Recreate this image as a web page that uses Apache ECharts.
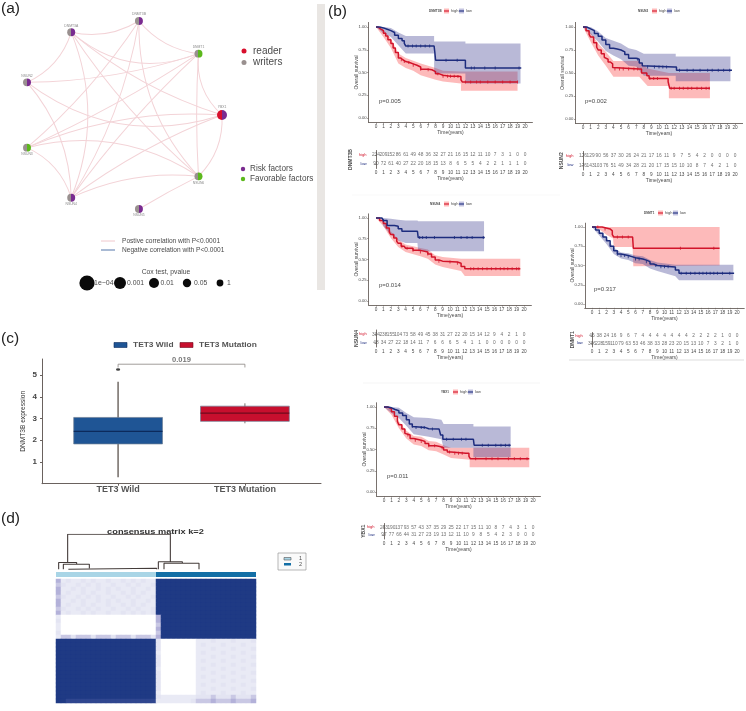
<!DOCTYPE html>
<html><head><meta charset="utf-8">
<style>html,body{margin:0;padding:0;background:#fff}#c{width:746px;height:711px;filter:blur(0.55px)}</style>
<script src="https://cdn.jsdelivr.net/npm/echarts@6/dist/echarts.min.js"></script>
</head><body><div id="c"></div>
<script>
// ---------- (a) network ----------
const nodeNames=['YBX1','NSUN6','NSUN5','NSUN4','NSUN3','NSUN2','DNMT3A','DNMT3B','DNMT1'];
const nodeAngles=[0,40,80,120,160,200,240,280,320];
const nodeLeftRole=['reader','writer','writer','writer','writer','writer','writer','writer','writer'];
const nodeRightRole=['risk','fav','risk','risk','fav','risk','risk','risk','fav'];
const edgeList=[[0,8,.25],[0,1,-.22],[0,3,.07],[0,4,.12],[0,5,.26],[0,6,.1],[1,2,.02],[1,3,.14],[1,4,.22],[1,6,.07],[1,7,.2],[1,8,.03],[3,4,.22],[3,5,.18],[3,6,.2],[3,7,.1],[3,8,.05],[4,7,.07],[4,8,.04],[5,6,.22],[5,8,.08],[6,7,.2],[6,8,.3],[7,8,.2]];
// ---------- (b) survival ----------
const years=[0,1,2,3,4,5,6,7,8,9,10,11,12,13,14,15,16,17,18,19,20];
const survTicks=[0,.25,.5,.75,1];

const dnmt3bHighT=[0,.3,.6,1,1.3,1.6,2,2.3,2.6,3,3.3,3.6,4,4.5,5,5.5,6,7,7.5,8,8.5,9,10,11,11.4,11.6,19];
const dnmt3bHighS=[1,.98,.96,.93,.9,.86,.82,.77,.72,.66,.64,.62,.61,.595,.58,.56,.535,.53,.51,.485,.47,.46,.46,.455,.42,.395,.395];
const dnmt3bHighBandT=[0,1,2,3,4,5,6,8,9,11.4,11.4,19];
const dnmt3bHighLo=[1,.89,.77,.6,.55,.52,.47,.42,.4,.38,.3,.3];
const dnmt3bHighHi=[1,.97,.87,.71,.66,.63,.6,.55,.52,.51,.51,.51];
const dnmt3bHighCens=[3.4,3.8,4.4,5,6,7,8.3,9,9.6,10,10.5,11,12,12.7,13.5,14,15,16,17,18,19];
const dnmt3bLowT=[0,.5,1,1.5,2,2.5,3,3.5,3.8,4,7.8,7.9,8,12,12,19.5];
const dnmt3bLowS=[1,.99,.975,.96,.94,.91,.875,.85,.82,.79,.79,.72,.635,.635,.55,.55];
const dnmt3bLowBandT=[0,1,2,3,4,7.8,7.8,12,12,19.4];
const dnmt3bLowLo=[1,.93,.89,.8,.71,.71,.49,.49,.38,.38];
const dnmt3bLowHi=[1,1,.99,.94,.9,.9,.84,.84,.82,.82];
const dnmt3bLowCens=[4.3,4.9,5.4,6,6.6,7.2,9.4,10.9,12.8,13.2,14.6,16,19.2];
const dnmt3bRiskHigh=[234,209,152,86,61,49,48,36,32,27,21,16,15,12,11,10,7,3,1,0,0];
const dnmt3bRiskLow=[90,72,61,40,27,22,20,18,15,13,8,6,5,5,4,2,2,1,1,1,0];

const nsun2HighT=[0,.4,.8,1,1.4,1.8,2,2.4,2.8,3,3.3,3.6,3.9,4,7.4,7.7,8.4,8.7,10.8,11.2,11.4,16.7];
const nsun2HighS=[1,.96,.92,.89,.83,.78,.75,.71,.67,.65,.62,.6,.56,.543,.543,.5,.47,.44,.44,.405,.335,.335];
const nsun2HighBandT=[0,1,2,3,4,7.4,8.5,11.3,11.3,16.7];
const nsun2HighLo=[1,.84,.69,.58,.46,.46,.36,.36,.225,.225];
const nsun2HighHi=[1,.94,.82,.73,.63,.63,.55,.5,.5,.5];
const nsun2HighCens=[4.2,4.8,5.3,6,6.7,7.2,8.8,9.3,9.8,11.6,12,12.7,13.2,13.8,14.3,15,15.6,16.2,16.6];
const nsun2LowT=[0,.5,1,1.5,2,2.5,3,3.5,4,4.5,5,5.5,6,7,7.4,7.8,8,12,12.3,19.6];
const nsun2LowS=[1,.98,.96,.93,.9,.86,.81,.77,.76,.75,.73,.7,.66,.65,.61,.58,.565,.565,.53,.53];
const nsun2LowBandT=[0,1,2,3,4,5,6,7,8,12.2,12.2,19.4];
const nsun2LowLo=[1,.92,.84,.74,.69,.65,.58,.57,.47,.47,.41,.41];
const nsun2LowHi=[1,1,.95,.88,.85,.82,.77,.75,.71,.71,.68,.68];
const nsun2LowCens=[7.2,8.5,9.4,10,10.5,11,12.7,13.7,14.5,15.4,16.4,17,17.8,18.5,19.3];
const nsun2RiskHigh=[176,129,90,56,37,30,26,24,21,17,16,11,9,7,5,4,2,0,0,0,0];
const nsun2RiskLow=[176,143,103,76,51,49,34,28,21,20,17,15,15,10,10,8,7,4,2,1,0];

const nsun4HighT=[0,.5,1,1.4,1.8,2,2.4,2.8,3,3.4,3.8,4,5,6,7,7.5,8,8.5,9,11,11.5,12,19.5];
const nsun4HighS=[1,.97,.935,.88,.83,.8,.76,.72,.695,.66,.645,.635,.61,.59,.565,.53,.495,.48,.47,.455,.415,.39,.39];
const nsun4HighBandT=[0,1,2,3,4,6,7,8,9,11.5,12,19.5];
const nsun4HighLo=[1,.9,.76,.65,.59,.54,.51,.44,.41,.36,.3,.3];
const nsun4HighHi=[1,.97,.84,.74,.68,.64,.62,.55,.53,.51,.51,.51];
const nsun4HighCens=[3.5,4.2,5,6,7,8.5,10,11,12.8,13.2,13.8,14.4,15,15.6,16.2,16.8,17.3,17.8,18.4,19,19.3];
const nsun4LowT=[0,.8,1,1.5,2.5,3,3.5,4,5.6,5.7,14.7];
const nsun4LowS=[1,1,.97,.91,.9,.87,.84,.84,.84,.765,.765];
const nsun4LowBandT=[0,.7,1,2,3,4,5.6,5.7,14.6];
const nsun4LowLo=[1,1,.9,.8,.73,.7,.7,.6,.6];
const nsun4LowHi=[1,1,1,.99,.98,.97,.97,.96,.96];
const nsun4LowCens=[1,5.9,6.3,6.8,7.9,10.6,11.5,12.3,13,14.5];
const nsun4RiskHigh=[304,238,155,104,73,58,49,45,38,31,27,22,20,15,14,12,9,4,2,1,0];
const nsun4RiskLow=[48,34,27,22,18,14,11,7,6,6,6,5,4,1,1,0,0,0,0,0,0];

const dnmt1HighT=[0,1,1.4,2.5,2.8,3,5.6,5.7,17.6];
const dnmt1HighS=[1,1,.975,.95,.9,.87,.87,.725,.725];
const dnmt1HighBandT=[0,1,2,2.9,3,5.6,5.7,17.6];
const dnmt1HighLo=[1,.97,.9,.85,.74,.74,.49,.5];
const dnmt1HighHi=[1,1,1,1,1,1,1,1];
const dnmt1HighCens=[.8,1.8,3.5,4.2,5,12.2,16.8];
const dnmt1LowT=[0,.5,1,1.5,2,2.5,3,3.5,4,5,5.5,6,7,7.5,8,8.5,9,11,11.5,12,19.6];
const dnmt1LowS=[1,.96,.92,.87,.82,.75,.69,.65,.63,.615,.6,.585,.57,.55,.52,.5,.485,.48,.44,.4,.4];
const dnmt1LowBandT=[0,1,2,3,4,5,6,7,8,9,11.5,12,19.5];
const dnmt1LowLo=[1,.89,.78,.65,.59,.57,.53,.52,.46,.43,.36,.31,.31];
const dnmt1LowHi=[1,.95,.86,.73,.67,.66,.63,.62,.57,.54,.51,.51,.51];
const dnmt1LowCens=[3.5,4,4.5,5,6,6.5,7.5,8.8,9.5,10,10.5,12.3,13,13.6,14.2,14.8,15.3,15.8,16.3,16.8,17.3,18,19];
const dnmt1RiskHigh=[46,38,24,16,9,6,7,4,4,4,4,4,4,4,2,2,2,2,1,0,0];
const dnmt1RiskLow=[306,228,159,110,79,63,53,46,38,33,28,23,20,15,13,10,7,3,2,1,0];

const ybx1HighT=[0,.5,1,1.4,1.8,2,2.4,2.8,3,3.5,4,5,5.5,6,7,7.5,8,8.5,9,11,11.4,11.6,19.5];
const ybx1HighS=[1,.98,.945,.89,.83,.79,.74,.69,.67,.63,.61,.595,.57,.545,.535,.52,.495,.47,.457,.455,.42,.39,.39];
const ybx1HighBandT=[0,1,2,3,4,5,6,7,8,9,11.5,11.5,19.5];
const ybx1HighLo=[1,.91,.75,.63,.56,.54,.49,.48,.44,.4,.38,.29,.29];
const ybx1HighHi=[1,.97,.83,.72,.66,.65,.6,.59,.55,.52,.52,.52,.52];
const ybx1HighCens=[3.2,4.2,5,6,6.8,7.8,8.8,9.5,10,10.5,12.3,13.7,14.5,15.3,16.7,17.5,18.3,19.2];
const ybx1LowT=[0,.5,1,1.5,2,2.5,3,3.4,3.8,4,5.5,6,7.4,7.6,7.9,12,12.1,17];
const ybx1LowS=[1,.99,.97,.955,.93,.9,.85,.8,.77,.76,.745,.74,.73,.67,.62,.62,.55,.55];
const ybx1LowBandT=[0,1,2,3,4,6,7.7,8,12,12,17];
const ybx1LowLo=[1,.93,.87,.78,.68,.65,.62,.52,.52,.41,.41];
const ybx1LowHi=[1,1,.99,.93,.88,.87,.85,.8,.8,.77,.77];
const ybx1LowCens=[3.8,4.3,5,5.4,6.5,8.4,9.3,10.4,11,13.2,14,15,15.7,16.3,16.8];
const ybx1RiskHigh=[253,190,137,93,57,43,37,35,29,25,22,17,15,11,10,8,7,4,3,1,0];
const ybx1RiskLow=[97,77,66,44,31,27,23,19,13,12,11,10,9,8,5,4,2,3,0,0,0];

const panelPValues=['p=0.005','p=0.002','p=0.014','p=0.317','p=0.011'];
// ---------- (c) box plot ----------
const boxCategories=['TET3 Wild','TET3 Mutation'];
const boxWild=[1,.3,1.83,2.41,3.05,4.69];
const boxMutation=[2,2.78,2.87,3.25,3.57,3.7];
const boxOutliers=[[1,5.26]];
const boxBracket=[[1,5.35],[1,5.5],[2,5.5],[2,5.35]];
const boxPValue='0.019';
const boxTicks=[1,2,3,4,5];
// ---------- (d) consensus matrix ----------
const clusterSizes=[20,20];
const consensusRows=[
'4 1211212112112121211 99999999999999999999',
'3 2112121211211212112 99999999999999999999',
'4 1121211212121121121 99999999999999999999',
'4 1211212112112121211 99999999999999999999',
'3 2112121211211212112 99999999999999999999',
'4 1121211212121121121 99999999999999999999',
'4 1211212112112121211 99999999999999999999',
'3 2112121211211212112 99999999999999999999',
'4 1211212112112121212 99999999999999999999',
'1 0000000000000000000 4 9999999 999999999999',
'2 0000000000000000000 4 9999999 999999999999',
'1 0000000000000000000 3 9999999 999999999999',
'1 0000000000000000000 4 9999999 999999999999',
'2 0000000000000000000 3 9999999 999999999999',
'1 3323332333233323332 4 9999999 999999999999',
'9 9999999999999999999 2 0000000 111211121112',
'9 9999999999999999999 2 0000000 121112111211',
'9 9999999999999999999 2 0000000 111211121112',
'9 9999999999999999999 1 0000000 121112111211',
'9 9999999999999999999 2 0000000 111211121112',
'9 9999999999999999999 2 0000000 121112111211',
'9 9999999999999999999 2 0000000 111211121112',
'9 9999999999999999999 1 0000000 121112111211',
'9 9999999999999999999 2 0000000 111211121112',
'9 9999999999999999999 2 0000000 121112111211',
'9 9999999999999999999 2 0000000 111211121112',
'9 9999999999999999999 2 0000000 121112111211',
'9 9999999999999999999 2 0000000 111211121112',
'9 9999999999999999999 1 0000000 121112111211',
'9 9999999999999999999 2 1111111 222322232223',
'9 9888888888888888888 1 1111112 333433343334'
];
const dendroX=[2.33,2.33,22.87,22.87,null,.53,.53,4.13,4.13,null,1.47,1.47,6.67,6.67,null,2.47,2.47,20.13,20.13,null,20.47,20.47,25.27,25.27,null,21.6,21.6,28.6,28.6];
const dendroY=[.21,1,1,.23,null,.02,.21,.21,.16,null,.02,.16,.16,.05,null,.02,.05,.05,.02,null,.02,.23,.23,.19,null,.02,.19,.19,.02];

// ---------- styling and layout ----------
const FONT='"Liberation Sans",Arial,sans-serif';
const RED='#d2142a',BLUE='#1d2c7e',REDBAND='rgba(250,90,90,.42)',BLUEBAND='rgba(70,70,150,.38)';
const LINK='#f3d3d7',AXIS='#6a625e',TXT='#4a4a4a';
const roleColor={reader:'#d80f2c',writer:'#99908f',risk:'#7a2b90',fav:'#5cb81c'};

const grid=[],xAxis=[],yAxis=[],series=[],graphic=[];
function T(x,y,text,size,o){o=o||{};graphic.push({type:'text',x,y,rotation:o.rot||0,scaleX:o.sx||1,z:o.z||5,silent:true,style:{text,fontSize:size,fontFamily:FONT,fontWeight:o.w||'normal',fill:o.c||TXT,align:o.a||'left',verticalAlign:'middle',textAlign:o.a||'left',textVerticalAlign:'middle'}});}
function R(x,y,w,h,fill,o){o=o||{};graphic.push({type:'rect',z:o.z||4,silent:true,shape:{x,y,width:w,height:h},style:{fill,stroke:o.s||null,lineWidth:o.lw||0}});}
function L(x1,y1,x2,y2,c,w,o){graphic.push({type:'line',z:(o&&o.z)||4,silent:true,shape:{x1,y1,x2,y2},style:{stroke:c,lineWidth:w}});}
function C(x,y,r,fill){graphic.push({type:'circle',z:6,silent:true,shape:{cx:x,cy:y,r},style:{fill}});}

function addGrid(g,x,y){const i=grid.length;grid.push(Object.assign({containLabel:false},g));xAxis.push(Object.assign({gridIndex:i},x));yAxis.push(Object.assign({gridIndex:i},y));return i;}

function stepAt(T_,S_,t){let s=S_[0];for(let i=0;i<T_.length;i++){if(T_[i]<=t)s=S_[i];}return s;}
function band(gi,t,lo,hi,color){
  series.push({type:'custom',xAxisIndex:gi,yAxisIndex:gi,silent:true,z:1,clip:false,
    data:t.map((v,i)=>[v,lo[i],hi[i]]),encode:{x:0,y:[1,2]},
    renderItem(p,api){ if(p.dataIndex!==0) return null;
      const pts=[];for(let i=0;i<t.length;i++)pts.push(api.coord([t[i],hi[i]]));
      for(let i=t.length-1;i>=0;i--)pts.push(api.coord([t[i],lo[i]]));
      return {type:'polygon',shape:{points:pts},style:{fill:color}};
    }});
}
function curve(gi,t,s,cens,color){
  series.push({type:'line',xAxisIndex:gi,yAxisIndex:gi,step:'end',symbol:'none',silent:true,z:3,data:t.map((v,i)=>[v,s[i]]),lineStyle:{color,width:1.5}});
  series.push({type:'scatter',xAxisIndex:gi,yAxisIndex:gi,symbol:'rect',symbolSize:[1,3],silent:true,z:4,data:cens.map(c=>[c,stepAt(t,s,c)]),itemStyle:{color}});
}
function km(p,pv){
  const u=(p.x20-p.x0)/20,H=p.y0-p.y1;
  const gi=addGrid({left:p.x0-u,top:p.y1-.05*H,width:22*u,height:1.1*H},
    {type:'value',min:-1,max:21,name:'Time(years)',nameLocation:'middle',nameGap:p.xGap,nameTextStyle:{fontSize:5,color:TXT,fontFamily:FONT},
     axisLine:{onZero:false,lineStyle:{color:AXIS,width:.9}},axisTick:{length:1.5,customValues:years,lineStyle:{color:AXIS,width:.6}},splitLine:{show:false},
     axisLabel:{customValues:years,fontSize:4.7,margin:2,color:TXT,fontFamily:FONT,hideOverlap:false}},
    {type:'value',min:-.05,max:1.05,name:'Overall survival',nameLocation:'middle',nameGap:p.yGap,nameMoveOverlap:false,nameTextStyle:{fontSize:5,color:TXT,fontFamily:FONT},
     axisLine:{onZero:false,lineStyle:{color:AXIS,width:.9}},axisTick:{length:1.5,customValues:survTicks,lineStyle:{color:AXIS,width:.6}},splitLine:{show:false},
     axisLabel:{customValues:survTicks,formatter:v=>Number(v).toFixed(2),fontSize:4.2,margin:2,color:TXT,fontFamily:FONT}});
  band(gi,p.hb,p.hl,p.hh,REDBAND);band(gi,p.lb,p.ll,p.lh,BLUEBAND);
  curve(gi,p.ht,p.hs,p.hc,RED);curve(gi,p.lt,p.ls,p.lc,BLUE);
  T(p.px,p.py,pv,6);
  const gt=addGrid({left:p.x0-u,top:p.tt,width:22*u,height:p.th},
    {type:'value',min:-1,max:21,name:'Time(years)',nameLocation:'middle',nameGap:p.txGap,nameTextStyle:{fontSize:5,color:TXT,fontFamily:FONT},
     axisLine:{onZero:false,lineStyle:{color:AXIS,width:.9}},axisTick:{length:1.5,customValues:years,lineStyle:{color:AXIS,width:.6}},splitLine:{show:false},
     axisLabel:{customValues:years,fontSize:4.7,margin:2,color:TXT,fontFamily:FONT,hideOverlap:false}},
    {type:'category',data:['high','low'],inverse:true,name:p.name,nameLocation:'middle',nameGap:p.tyGap,nameMoveOverlap:false,nameTextStyle:{fontSize:5,color:TXT,fontFamily:FONT,fontWeight:'bold'},
     axisLine:{lineStyle:{color:AXIS,width:.9}},axisTick:{show:true,length:1.5,alignWithLabel:true,lineStyle:{color:AXIS,width:.6}},splitLine:{show:false},
     axisLabel:{fontSize:4,margin:2,fontFamily:FONT,color:v=>v==='high'?RED:BLUE}});
  [['high',p.rh],['low',p.rl]].forEach(([row,vals])=>{
    series.push({type:'scatter',xAxisIndex:gt,yAxisIndex:gt,symbolSize:1,silent:true,itemStyle:{color:'transparent'},
      data:vals.map((v,i)=>[years[i],row,v]),
      label:{show:true,position:'inside',formatter:q=>String(q.value[2]),fontSize:4.8,color:TXT,fontFamily:FONT}});
  });
  // legend
  const x=p.lx,y=p.ly;
  T(x,y,p.name,4.2,{sx:.72,w:'bold'});
  const kx=x+p.lk;
  R(kx,y-2.5,5,5,'#fbb',{});L(kx,y,kx+5,y,RED,1.1);T(kx+7,y,'high',4);
  R(kx+15,y-2.5,5,5,'#c3c3df',{});L(kx+15,y,kx+20,y,BLUE,1.1);T(kx+22,y,'low',4);
}

const panels=[
 {name:'DNMT3B',x0:376,x20:525,y1:27,y0:118,xGap:8,yGap:9.5,px:379,py:101,tt:150.5,th:18,txGap:8,tyGap:15.5,lx:429,ly:11,lk:15,
  ht:dnmt3bHighT,hs:dnmt3bHighS,hb:dnmt3bHighBandT,hl:dnmt3bHighLo,hh:dnmt3bHighHi,hc:dnmt3bHighCens,lt:dnmt3bLowT,ls:dnmt3bLowS,lb:dnmt3bLowBandT,ll:dnmt3bLowLo,lh:dnmt3bLowHi,lc:dnmt3bLowCens,rh:dnmt3bRiskHigh,rl:dnmt3bRiskLow},
 {name:'NSUN2',x0:583,x20:735,y1:27,y0:119,xGap:8,yGap:10.5,px:585,py:101,tt:151.5,th:18.5,txGap:8,tyGap:11.5,lx:638,ly:11,lk:14,
  ht:nsun2HighT,hs:nsun2HighS,hb:nsun2HighBandT,hl:nsun2HighLo,hh:nsun2HighHi,hc:nsun2HighCens,lt:nsun2LowT,ls:nsun2LowS,lb:nsun2LowBandT,ll:nsun2LowLo,lh:nsun2LowHi,lc:nsun2LowCens,rh:nsun2RiskHigh,rl:nsun2RiskLow},
 {name:'NSUN4',x0:376,x20:524,y1:218,y0:301,xGap:8,yGap:9.5,px:379,py:285,tt:330,th:17,txGap:6,tyGap:9.5,lx:430,ly:204,lk:14,
  ht:nsun4HighT,hs:nsun4HighS,hb:nsun4HighBandT,hl:nsun4HighLo,hh:nsun4HighHi,hc:nsun4HighCens,lt:nsun4LowT,ls:nsun4LowS,lb:nsun4LowBandT,ll:nsun4LowLo,lh:nsun4LowHi,lc:nsun4LowCens,rh:nsun4RiskHigh,rl:nsun4RiskLow},
 {name:'DNMT1',x0:592,x20:737,y1:227,y0:304,xGap:6,yGap:9.5,px:594,py:289,tt:332.5,th:14.5,txGap:5,tyGap:9.5,lx:644,ly:213,lk:14,
  ht:dnmt1HighT,hs:dnmt1HighS,hb:dnmt1HighBandT,hl:dnmt1HighLo,hh:dnmt1HighHi,hc:dnmt1HighCens,lt:dnmt1LowT,ls:dnmt1LowS,lb:dnmt1LowBandT,ll:dnmt1LowLo,lh:dnmt1LowHi,lc:dnmt1LowCens,rh:dnmt1RiskHigh,rl:dnmt1RiskLow},
 {name:'YBX1',x0:384,x20:533,y1:407,y0:492,xGap:7,yGap:9.5,px:387,py:476,tt:523.5,th:15.5,txGap:7,tyGap:10.5,lx:441,ly:392,lk:12,
  ht:ybx1HighT,hs:ybx1HighS,hb:ybx1HighBandT,hl:ybx1HighLo,hh:ybx1HighHi,hc:ybx1HighCens,lt:ybx1LowT,ls:ybx1LowS,lb:ybx1LowBandT,ll:ybx1LowLo,lh:ybx1LowHi,lc:ybx1LowCens,rh:ybx1RiskHigh,rl:ybx1RiskLow}
];
panels.forEach((p,i)=>km(p,panelPValues[i]));

// ---------- (a) graph ----------
function halfColor(a,b){return {type:'linear',x:0,y:0,x2:1,y2:0,colorStops:[{offset:0,color:a},{offset:.5,color:a},{offset:.5,color:b},{offset:1,color:b}]};}
const RX=100,RY=95.5;
series.push({type:'graph',layout:'none',left:27,top:21,width:195,height:188,silent:true,z:3,
  data:nodeNames.map((n,i)=>({name:n,x:RX*Math.cos(nodeAngles[i]*Math.PI/180),y:RY*Math.sin(nodeAngles[i]*Math.PI/180),symbolSize:i===0?10:8,
    itemStyle:{color:halfColor(roleColor[nodeLeftRole[i]],roleColor[nodeRightRole[i]])},
    label:{show:true,fontSize:3.4,color:'#888',fontFamily:FONT,distance:1,position:i===0?'top':(i<=4?'bottom':'top')}})),
  links:edgeList.map(e=>({source:nodeNames[e[0]],target:nodeNames[e[1]],lineStyle:{color:LINK,width:1,curveness:(e[1]-e[0]<=4?-1:1)*e[2],opacity:1}}))
});
C(244,51,2.5,roleColor.reader);T(253,51,'reader',10);
C(244,62.5,2.5,roleColor.writer);T(253,62.5,'writers',10);
C(243,169,2.2,roleColor.risk);T(250,169,'Risk factors',8.2);
C(243,179,2.2,roleColor.fav);T(250,179,'Favorable factors',8.2);
L(101,241,115,241,'#f0c8cc',1);T(122,241,'Postive correlation with P<0.0001',6.6);
L(101,250,115,250,'#5577aa',1);T(122,250,'Negative correlation with P<0.0001',6.6);
T(166,272,'Cox test, pvalue',6.8,{a:'center'});
T(94,283,'1e\u221204',7);C(87,283,7.6,'#0a0a0a');
T(127,283,'0.001',6.8);C(120,283,6,'#0a0a0a');
T(160.5,283,'0.01',6.8);C(154,283,5,'#0a0a0a');
T(194,283,'0.05',6.8);C(187,283,4.2,'#0a0a0a');
T(227,283,'1',6.8);C(220,283,3.4,'#0a0a0a');
R(317,4,8,286,'#e9e6e3',{z:1});

// ---------- (c) boxes ----------
const gc=addGrid({left:42,top:359,width:279,height:124.7},
 {type:'value',min:.4,max:2.6,axisLine:{onZero:false,lineStyle:{color:AXIS,width:1}},axisTick:{length:2,customValues:[1,2],lineStyle:{color:AXIS}},splitLine:{show:false},
  axisLabel:{customValues:[1,2],formatter:v=>boxCategories[Math.round(v)-1],fontSize:9,fontWeight:'bold',color:'#555',fontFamily:FONT,margin:1}},
 {type:'value',min:0,max:5.74,name:'DNMT3B expression',nameLocation:'middle',nameGap:15.7,nameMoveOverlap:false,nameTextStyle:{fontSize:6.6,color:'#333',fontFamily:FONT},
  axisLine:{onZero:false,lineStyle:{color:AXIS,width:1}},axisTick:{length:2,customValues:boxTicks,lineStyle:{color:AXIS}},splitLine:{show:false},
  axisLabel:{customValues:boxTicks,fontSize:8,fontWeight:'bold',color:'#444',fontFamily:FONT,margin:5}});
series.push({type:'custom',xAxisIndex:gc,yAxisIndex:gc,silent:true,clip:false,encode:{x:0,y:[1,2,3,4,5]},
  data:[boxWild,boxMutation],
  renderItem(p,api){
    const x=api.value(0),lo=api.value(1),q1=api.value(2),m=api.value(3),q3=api.value(4),hi=api.value(5);
    const w=api.size([.7,0])[0];
    const a=api.coord([x,lo]),b=api.coord([x,hi]),c=api.coord([x,q1]),d=api.coord([x,q3]),e=api.coord([x,m]);
    const fill=p.dataIndex===0?'#1f5595':'#c70f2e',dark=p.dataIndex===0?'#0c2a5c':'#6f0a1c';
    return {type:'group',children:[
      {type:'line',shape:{x1:a[0],y1:a[1],x2:b[0],y2:b[1]},style:{stroke:'#7b7470',lineWidth:p.dataIndex===0?1.6:1}},
      {type:'rect',shape:{x:c[0]-w/2,y:d[1],width:w,height:c[1]-d[1]},style:{fill,stroke:'#6f7f95',lineWidth:.7}},
      {type:'line',shape:{x1:e[0]-w/2,y1:e[1],x2:e[0]+w/2,y2:e[1]},style:{stroke:dark,lineWidth:1.2}}
    ]};
  }});
series.push({type:'scatter',xAxisIndex:gc,yAxisIndex:gc,silent:true,symbol:'circle',symbolSize:[4.2,2.4],data:boxOutliers,itemStyle:{color:'#111'}});
series.push({type:'line',xAxisIndex:gc,yAxisIndex:gc,silent:true,symbol:'none',data:boxBracket,lineStyle:{color:'#8a8480',width:.8}});
series.push({type:'scatter',xAxisIndex:gc,yAxisIndex:gc,silent:true,symbolSize:1,itemStyle:{color:'transparent'},data:[[1.5,5.5,boxPValue]],
  label:{show:true,position:'top',distance:0,formatter:q=>q.value[2],fontSize:7.6,fontWeight:'bold',color:'#555',fontFamily:FONT}});
R(114,342.5,13,5,'#1f5595',{s:'#0c2a5c',lw:.6});T(133,345,boxCategories[0],7,{w:'bold',c:'#555',sx:1.2});
R(180,342.5,13,5,'#c70f2e',{s:'#6f0a1c',lw:.6});T(199,345,boxCategories[1],7,{w:'bold',c:'#555',sx:1.2});

// ---------- (d) heatmap ----------
const matrix=consensusRows.map(r=>r.replace(/ /g,''));
const colIds=matrix[0].split('').map((_,i)=>String(i));
const rowIds=matrix.map((_,i)=>String(i));
const gd=addGrid({left:56,top:579,width:200,height:124},
 {type:'category',data:colIds,show:false},{type:'category',data:rowIds,inverse:true,show:false});
const heatIndex=series.length;
series.push({type:'heatmap',xAxisIndex:gd,yAxisIndex:gd,silent:true,progressive:0,
  data:matrix.flatMap((r,j)=>r.split('').map((v,i)=>[i,j,+v]))});
const ga=addGrid({left:56,top:572,width:200,height:5},
 {type:'value',min:0,max:40,show:false},{type:'category',data:['cluster'],show:false});
series.push({type:'bar',xAxisIndex:ga,yAxisIndex:ga,stack:'c',barWidth:'100%',silent:true,data:[clusterSizes[0]],itemStyle:{color:'#a9d5e6'}});
series.push({type:'bar',xAxisIndex:ga,yAxisIndex:ga,stack:'c',barWidth:'100%',silent:true,data:[clusterSizes[1]],itemStyle:{color:'#136fa6'}});
const gt=addGrid({left:56,top:534.3,width:200,height:35.7},
 {type:'value',min:0,max:40,show:false},{type:'value',min:0,max:1,show:false});
series.push({type:'line',xAxisIndex:gt,yAxisIndex:gt,silent:true,symbol:'none',connectNulls:false,
  data:dendroX.map((x,i)=>x===null?['-','-']:[x,dendroY[i]]),lineStyle:{color:'#443c3a',width:1.1}});
T(155.5,532,'consensus matrix k=2',7.4,{a:'center',w:'bold',c:'#333',sx:1.25});
R(278,553,28,17,'#fafafa',{s:'#999',lw:.7});
R(284,557.5,7,2.5,'#a9d5e6',{s:'#555',lw:.6});T(299,558.5,'1',5.5);
R(284,563,7,2.5,'#136fa6',{});T(299,564,'2',5.5);

// panel letters & faint rules
T(1,9,'(a)',15.5,{c:'#222'});T(328,12,'(b)',15.5,{c:'#222'});T(1,339,'(c)',15.5,{c:'#222'});T(1,519,'(d)',15.5,{c:'#222'});
L(569,360,744,360,'#cfcfcf',.7);L(363,383,540,383,'#f0f0f0',.7);L(352,195,560,195,'#f6f6f6',.7);

const chart=echarts.init(document.getElementById('c'),null,{renderer:'canvas',width:746,height:711});
chart.setOption({animation:false,backgroundColor:'#fff',textStyle:{fontFamily:FONT},
  grid,xAxis,yAxis,series,graphic:{elements:graphic},
  visualMap:{show:false,min:0,max:9,seriesIndex:heatIndex,inRange:{color:['#ffffff','#e9eaf5','#e3e4f2','#c9c8e4','#b3b1d9','#8f8fc4','#6c70ae','#4a559c','#2f468f','#1f3a84']}}});
</script></body></html>
